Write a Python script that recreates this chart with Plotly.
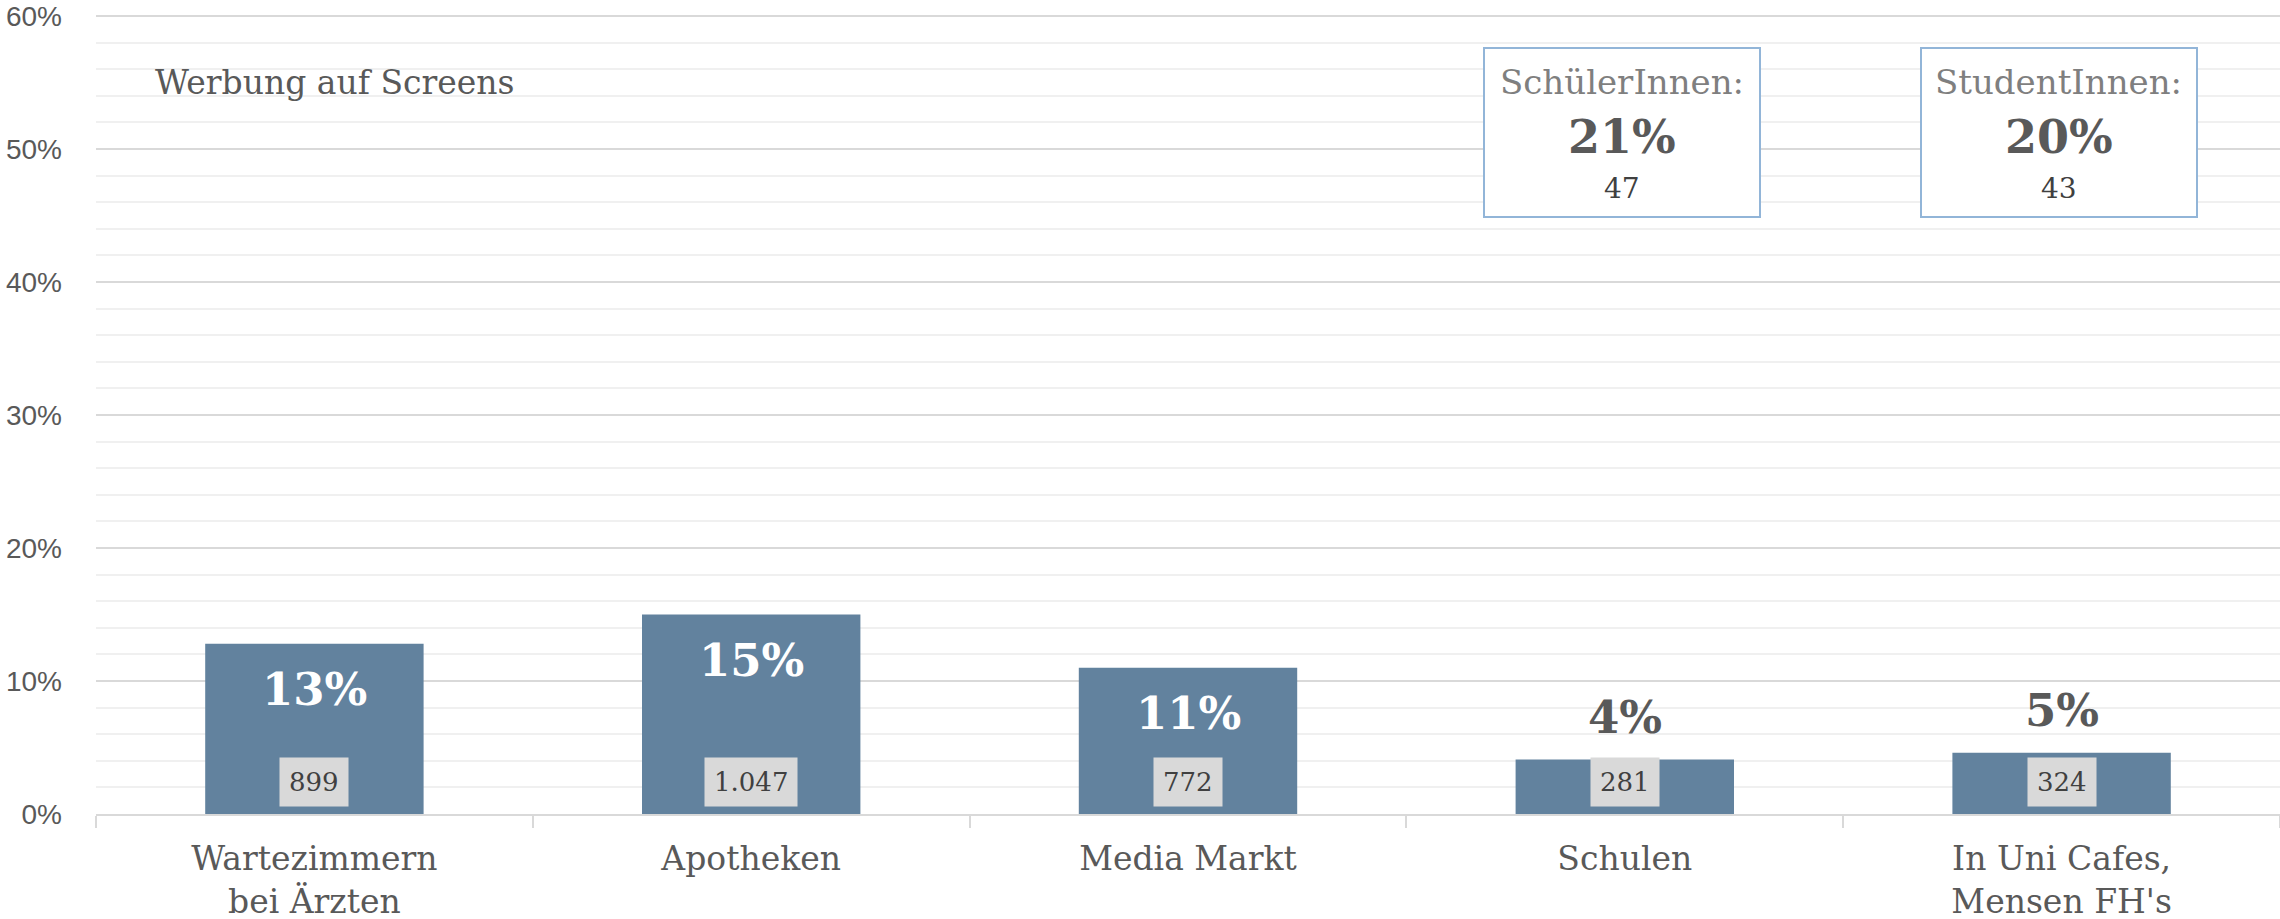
import plotly.graph_objects as go

categories = ["Wartezimmern<br>bei Ärzten", "Apotheken", "Media Markt", "Schulen", "In Uni Cafes,<br>Mensen FH's"]
shares = [0.128, 0.150, 0.110, 0.041, 0.046]
counts = ["899", "1.047", "772", "281", "324"]
label_inside = [True, True, True, False, False]

box_categories = ["Schulen", "In Uni Cafes,<br>Mensen FH's"]
box_titles = ["SchülerInnen:", "StudentInnen:"]
box_shares = [0.21, 0.20]
box_counts = ["47", "43"]

y_ticks = [0, 0.1, 0.2, 0.3, 0.4, 0.5, 0.6]

chart_title = "Werbung auf Screens"

FONT = "DejaVu Serif"
SANS = "Liberation Sans"
BAR = "#62829e"
GREY = "#595959"

fig = go.Figure()
fig.add_trace(go.Bar(
    x=categories, y=shares, marker=dict(color=BAR, line=dict(width=0)),
    hoverinfo="skip", showlegend=False,
))

ann = []
for c, v, n, inside in zip(categories, shares, counts, label_inside):
    ann.append(dict(
        x=c, y=v, xref="x", yref="y", text=f"<b>{v:.0%}</b>", showarrow=False,
        yanchor="middle", yshift=-46 if inside else 42,
        font=dict(family=FONT, size=45, color="white" if inside else GREY),
    ))
    ann.append(dict(
        x=c, y=0, xref="x", yref="y", text=n, showarrow=False,
        yanchor="bottom", yshift=7, bgcolor="#d9d9d9", borderpad=9,
        font=dict(family=FONT, size=26, color="#404040"),
    ))

PLOT_TOP, PLOT_BOTTOM = 12, 814
def paper_y(px):
    return (PLOT_BOTTOM - px) / (PLOT_BOTTOM - PLOT_TOP)

for c, t, v, n in zip(box_categories, box_titles, box_shares, box_counts):
    ann.append(dict(
        x=c, y=paper_y(132), xref="x", yref="paper", text=" ", showarrow=False,
        width=272, height=165, bordercolor="#92b5d8", borderwidth=2, bgcolor="white",
        xanchor="center", yanchor="middle", xshift=-3,
    ))
    ann.append(dict(
        x=c, y=paper_y(82), xref="x", yref="paper", text=t, showarrow=False, xshift=-3,
        xanchor="center", yanchor="middle",
        font=dict(family=FONT, size=34, color="#7f7f7f"),
    ))
    ann.append(dict(
        x=c, y=paper_y(137), xref="x", yref="paper", text=f"<b>{v:.0%}</b>", showarrow=False, xshift=-3,
        xanchor="center", yanchor="middle",
        font=dict(family=FONT, size=46, color=GREY),
    ))
    ann.append(dict(
        x=c, y=paper_y(188), xref="x", yref="paper", text=n, showarrow=False, xshift=-3,
        xanchor="center", yanchor="middle",
        font=dict(family=FONT, size=28, color="#404040"),
    ))

ann.append(dict(
    x=(153 - 96) / 2184, y=paper_y(83), xref="paper", yref="paper", text=chart_title, showarrow=False,
    xanchor="left", yanchor="middle",
    font=dict(family=FONT, size=33, color=GREY),
))

fig.update_layout(
    width=2280, height=919,
    margin=dict(l=96, r=0, t=PLOT_TOP, b=919 - PLOT_BOTTOM),
    plot_bgcolor="white", paper_bgcolor="white",
    bargap=0.5,
    annotations=ann,
    font=dict(family=FONT, color=GREY),
    xaxis=dict(
        automargin=False,
        tickson="boundaries", ticks="outside", ticklen=12, tickwidth=2, tickcolor="#d9d9d9",
        showline=True, linecolor="#d9d9d9", linewidth=2, showgrid=False,
        ticklabelstandoff=14,
        tickfont=dict(family=FONT, size=33, color=GREY),
    ),
    yaxis=dict(
        automargin=False, ticklabeloverflow="allow",
        range=[0, 0.603], tickvals=y_ticks, tickformat=".0%",
        showgrid=True, gridcolor="#d9d9d9",
        gridwidth=2, zeroline=False, ticks="", ticklabelstandoff=33,
        tickfont=dict(family=SANS, size=28, color=GREY),
        minor=dict(dtick=0.02, showgrid=True, gridcolor="#f0f0f0", gridwidth=2),
    ),
)

fig.write_html(
    "out.html",
    config={"displayModeBar": False},
    post_script="document.body.style.margin='0';document.body.style.overflow='hidden';",
)
